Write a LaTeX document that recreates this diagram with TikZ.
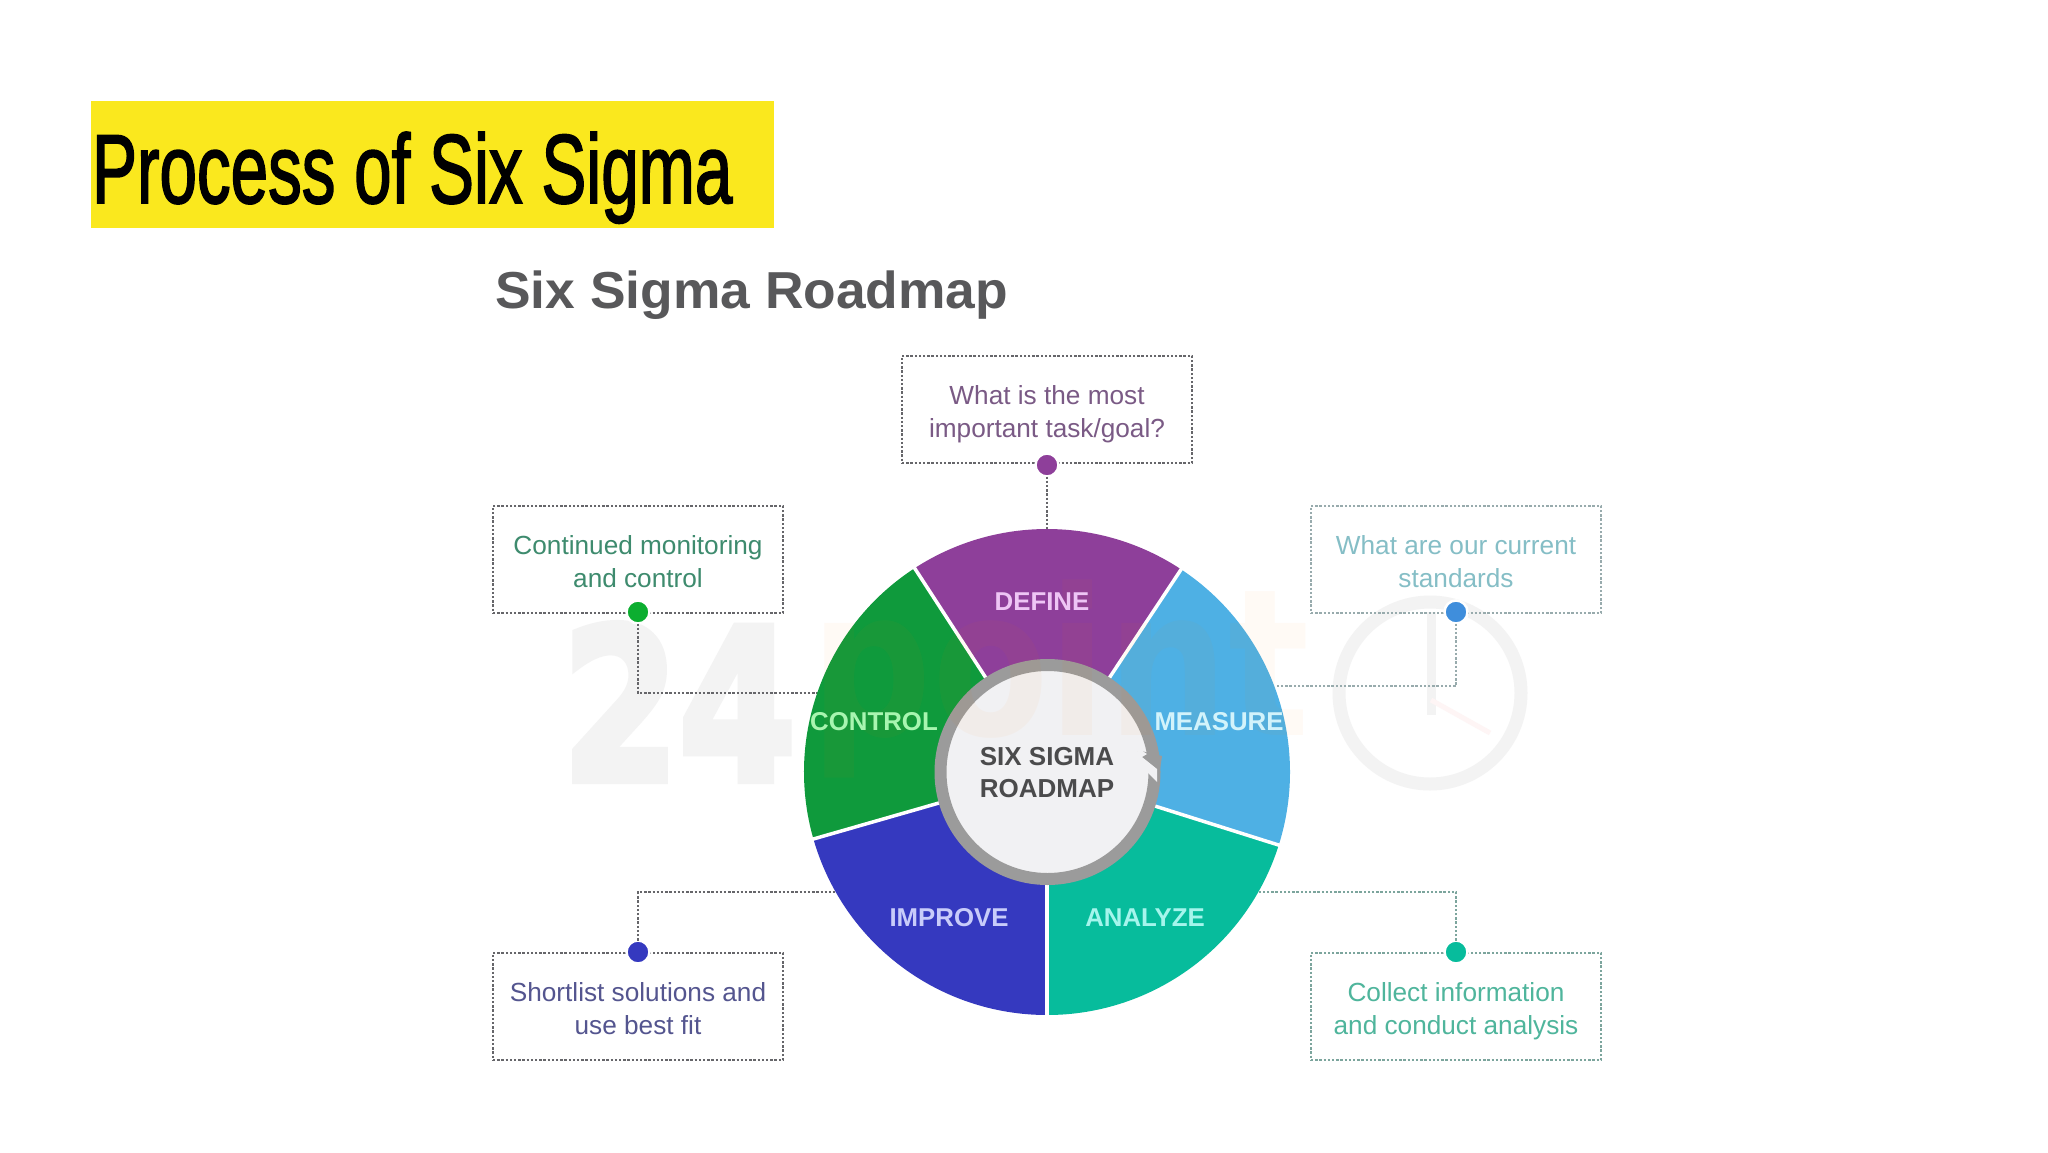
\documentclass[tikz,border=0pt]{standalone}
\usepackage{fontspec}
\setmainfont{Liberation Sans}
\newfontfamily\bannerfont[FakeBold=2]{Liberation Sans}
\newfontfamily\markfont[FakeBold=4]{DejaVu Sans Bold}
\newfontfamily\wordfont{DejaVu Sans Bold}
\definecolor{cDefine}{HTML}{8E3F9A}
\definecolor{cMeasure}{HTML}{4EB0E4}
\definecolor{cAnalyze}{HTML}{07BC9C}
\definecolor{cImprove}{HTML}{3539BF}
\definecolor{cControl}{HTML}{0F9A3C}
\definecolor{ringGray}{HTML}{9B9B9B}
\definecolor{hubFill}{HTML}{F1F1F3}
\definecolor{markGray}{HTML}{F3F3F3}
\definecolor{bannerYellow}{HTML}{FAE81E}
\definecolor{headGray}{HTML}{58585A}
\definecolor{lineDark}{HTML}{66666A}
\definecolor{lineLight}{HTML}{98ABAD}
\definecolor{lineTeal}{HTML}{7CA59D}
\definecolor{tDefine}{HTML}{7A5A85}
\definecolor{tMeasure}{HTML}{85BEC6}
\definecolor{tAnalyze}{HTML}{4FB59C}
\definecolor{tImprove}{HTML}{54558F}
\definecolor{tControl}{HTML}{3E8B6E}
\definecolor{nDefine}{HTML}{EEC5F5}
\definecolor{nMeasure}{HTML}{D2F3FB}
\definecolor{nAnalyze}{HTML}{A5F5EC}
\definecolor{nImprove}{HTML}{C8CCFA}
\definecolor{nControl}{HTML}{A8F5B0}
\newcommand\boxtop{\rule{0pt}{29.5pt}}
\newcommand\boxline{\rule[-6pt]{0pt}{20pt}}
\newcommand\hubline{\rule[-7pt]{0pt}{25pt}}
\tikzset{
  note/.style={draw=#1,line width=2.4pt,dash pattern=on 2.4pt off 1.8pt,
    minimum width=290pt,minimum height=107pt,inner sep=0pt,outer sep=0pt,align=center,
    font=\fontsize{26.2}{33}\selectfont},
  link/.style={draw=#1,line width=2.4pt,dash pattern=on 2.4pt off 1.8pt},
  pin/.style={circle,fill=#1,draw=white,line width=2.5pt,minimum size=23pt,inner sep=0pt,outer sep=0pt},
  wedgeName/.style={anchor=base,inner sep=0pt,font=\fontsize{25.8}{30}\selectfont\bfseries,text=#1},
  spoke/.style={draw=white,line width=3.5pt},
  ghost/.style={anchor=base,inner sep=0pt,text=#1}
}
\begin{document}
\begin{tikzpicture}[x=1pt,y=-1pt]
\useasboundingbox (0,0) rectangle (2048,1152);
\fill[white] (0,0) rectangle (2048,1152);
% watermark behind the chart
\node[ghost=markGray,font=\markfont\fontsize{210}{210}\selectfont,xscale=0.8] (markNum) at (679,780) {24};
\draw[markGray,line width=13pt] (1430,693) circle[radius=91];
\draw[markGray,line width=9pt] (1431,612) -- (1431,715);
\draw[markGray!70!red!12,line width=5pt] (1431,700) -- (1490,733);
% banner
\fill[bannerYellow] (90.5,101) rectangle (774,228);
\node[anchor=base west,inner sep=0pt,font=\bannerfont\fontsize{98}{98}\selectfont,xscale=0.6875] (banner) at (92,203) {Process of Six Sigma};
\node[anchor=base west,inner sep=0pt,font=\fontsize{52}{56}\selectfont\bfseries,text=headGray,xscale=1.026] (roadTitle) at (495,308) {Six Sigma Roadmap};
% notes
\node[note=lineDark,text=tDefine] (noteDefine) at (1047,409.5) {\boxtop What is the most\\\boxline important task/goal?};
\node[note=lineLight,text=tMeasure] (noteMeasure) at (1456,559.5) {\boxtop What are our current\\\boxline standards};
\node[note=lineTeal,text=tAnalyze] (noteAnalyze) at (1456,1006.5) {\boxtop Collect information\\\boxline and conduct analysis};
\node[note=lineDark,text=tImprove] (noteImprove) at (638,1006.5) {\boxtop Shortlist solutions and\\\boxline use best fit};
\node[note=lineDark,text=tControl] (noteControl) at (638,559.5) {\boxtop Continued monitoring\\\boxline and control};
% pins
\node[pin=cDefine] (pinDefine) at (1047,465) {};
\node[pin=cMeasure!85!blue!95!black] (pinMeasure) at (1456,612) {};
\node[pin=cAnalyze] (pinAnalyze) at (1456,952) {};
\node[pin=cImprove] (pinImprove) at (638,952) {};
\node[pin=cControl!80!green] (pinControl) at (638,612) {};
% connector ends under the wheel
\coordinate (endDefine) at (1047,540);
\coordinate (endMeasure) at (1275,686);
\coordinate (endAnalyze) at (1258,892);
\coordinate (endImprove) at (835,892);
\coordinate (endControl) at (820,693);
\draw[link=lineDark] (pinDefine) -- (endDefine);
\draw[link=lineLight] (pinMeasure) |- (endMeasure);
\draw[link=lineTeal] (pinAnalyze) |- (endAnalyze);
\draw[link=lineDark] (pinImprove) |- (endImprove);
\draw[link=lineDark] (pinControl) |- (endControl);
% wheel
\begin{scope}[shift={(1047,772)}]
  \fill[cMeasure] (0,0) -- (17.5:243) arc[start angle=17.5,end angle=-56.5,radius=243] -- cycle;
  \fill[cDefine] (0,0) -- (-56.5:243) arc[start angle=-56.5,end angle=-123,radius=243] -- cycle;
  \fill[cControl] (0,0) -- (-123:243) arc[start angle=-123,end angle=-196,radius=243] -- cycle;
  \fill[cImprove] (0,0) -- (-196:243) arc[start angle=-196,end angle=-270,radius=243] -- cycle;
  \fill[cAnalyze] (0,0) -- (90:243) arc[start angle=90,end angle=17.5,radius=243] -- cycle;
  \draw[spoke] (0,0) -- (17.5:245);
  \draw[spoke] (0,0) -- (-56.5:245);
  \draw[spoke] (0,0) -- (-123:245);
  \draw[spoke] (0,0) -- (-196:245);
  \draw[spoke] (0,0) -- (90:245);
\end{scope}
% hub
\node[circle,fill=hubFill,draw=ringGray,line width=12pt,minimum size=214pt,inner sep=0pt] (hub) at (1047.5,772) {};
% ring arrowhead
\fill[ringGray] (1137,750) -- (1162,756) -- (1158,782) -- (1150,770) -- cycle;
\fill[hubFill] (1135,746) -- (1147,754) -- (1142,757) -- (1157,769) -- (1157,782) -- (1145,770) -- cycle;
% faint wordmark across the chart
\node[ghost=orange,text opacity=0.04,font=\wordfont\fontsize{205}{205}\selectfont,xscale=0.83] (markWord) at (1060,735) {point};
% hub text
\node[inner sep=0pt,align=center,font=\fontsize{26}{32}\selectfont\bfseries,text=headGray!85!black] (hubText) at (1047,775.5) {\hubline SIX SIGMA\\\hubline ROADMAP};
% wedge names
\node[wedgeName=nDefine] (nameDefine) at (1042,610) {DEFINE};
\node[wedgeName=nMeasure] (nameMeasure) at (1219,730) {MEASURE};
\node[wedgeName=nAnalyze] (nameAnalyze) at (1145,926) {ANALYZE};
\node[wedgeName=nImprove] (nameImprove) at (949,926) {IMPROVE};
\node[wedgeName=nControl] (nameControl) at (874,730) {CONTROL};
\end{tikzpicture}
\end{document}
